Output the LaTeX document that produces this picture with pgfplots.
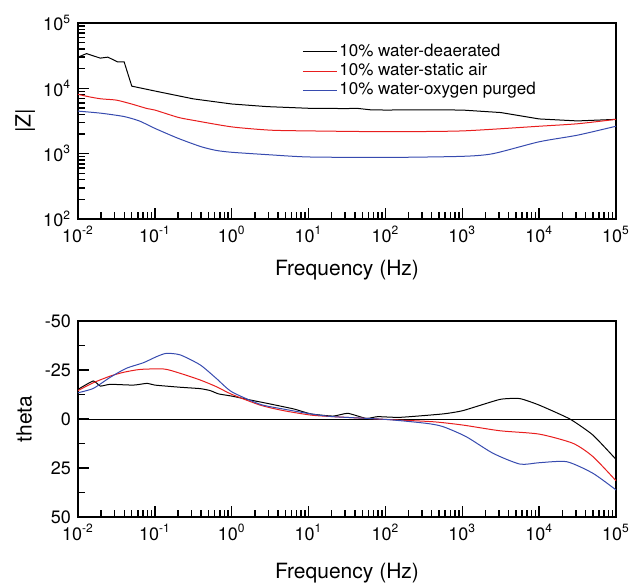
\documentclass[border=0pt]{standalone}
\usepackage{fontspec}
\setmainfont{TeX Gyre Heros}
\usepackage{pgfplots}
\pgfplotsset{compat=1.18}
\definecolor{myred}{RGB}{232,30,30}
\definecolor{myblue}{RGB}{55,75,175}
\begin{document}
\begin{tikzpicture}
\begin{axis}[at={(39pt,182.5pt)}, anchor=south west,
  xmode=log, ymode=log, scale only axis, width=269pt, height=98pt,
  xmin=1e-2, xmax=1e5, ymin=100, ymax=1e5,
  xtick={1e-2,1e-1,1,10,100,1000,1e4,1e5},
  xticklabels={10\textsuperscript{-2},10\textsuperscript{-1},10\textsuperscript{0},10\textsuperscript{1},10\textsuperscript{2},10\textsuperscript{3},10\textsuperscript{4},10\textsuperscript{5}},
  minor xtick={0.02,0.03,0.04,0.05,0.06,0.07,0.08,0.09,0.2,0.3,0.4,0.5,0.6,0.7,0.8,0.9,2,3,4,5,6,7,8,9,20,30,40,50,60,70,80,90,200,300,400,500,600,700,800,900,2000,3000,4000,5000,6000,7000,8000,9000,20000,30000,40000,50000,60000,70000,80000,90000},
  ytick={100,1000,1e4,1e5},
  yticklabels={10\textsuperscript{2},10\textsuperscript{3},10\textsuperscript{4},10\textsuperscript{5}},
  minor ytick={200,300,400,500,600,700,800,900,2000,3000,4000,5000,6000,7000,8000,9000,20000,30000,40000,50000,60000,70000,80000,90000},
  xtick pos=left, ytick pos=left,
  tick align=inside, major tick length=5.5pt, minor tick length=3.5pt,
  tick style={black, line width=0.75pt},
  axis line style={line width=0.6pt},
  ticklabel style={font=\fontsize{9}{10}\selectfont},
  label style={font=\fontsize{10.5}{12}\selectfont},
  xlabel={Frequency (Hz)}, ylabel={|Z|},
  y label style={at={(axis description cs:-0.098,0.5)}, anchor=center},
  x label style={at={(axis description cs:0.5,-0.26)}, anchor=center},
  legend style={at={(0.405,0.925)}, anchor=north west, draw=none, fill=none,
    font=\fontsize{8.5}{9}\selectfont, nodes={inner sep=1pt}},
  legend cell align=left,
]
\addplot[black, line width=0.5pt] coordinates {(0.01,30000) (0.0129,34000) (0.0195,29000) (0.0245,30000) (0.0324,25500) (0.0398,25500) (0.0501,10800) (0.1,9100) (0.316,6900) (1,5760) (2.88,5250) (10,4950) (31.6,4900) (42,4950) (63,4700) (100,4650) (300,4700) (1000,4650) (3162,4260) (10000,3400) (31623,3170) (1e5,3350)};
\addlegendentry{10\% water-deaerated}
\addplot[myred, line width=0.5pt, smooth, tension=0.4] coordinates {(0.01,8100) (0.0141,7400) (0.02,6900) (0.0316,6600) (0.05,5750) (0.0794,4900) (0.1,4650) (0.2,3600) (0.316,3240) (1,2570) (3.16,2290) (10,2230) (100,2170) (1000,2230) (10000,2630) (31623,2870) (1e5,3350)};
\addlegendentry{10\% water-static air}
\addplot[myblue, line width=0.5pt, smooth, tension=0.4] coordinates {(0.01,4480) (0.02,4160) (0.0398,3700) (0.0631,3160) (0.1,2440) (0.2,1720) (0.398,1280) (0.631,1120) (1,1050) (3.16,960) (10,890) (100,875) (1000,910) (2512,1000) (10000,1520) (31623,1920) (1e5,2630)};
\addlegendentry{10\% water-oxygen purged}
\end{axis}
\begin{axis}[at={(39pt,33.5pt)}, anchor=south west,
  xmode=log, scale only axis, width=269pt, height=98pt,
  xmin=1e-2, xmax=1e5, y dir=reverse, ymin=-50, ymax=50,
  xtick={1e-2,1e-1,1,10,100,1000,1e4,1e5},
  xticklabels={10\textsuperscript{-2},10\textsuperscript{-1},10\textsuperscript{0},10\textsuperscript{1},10\textsuperscript{2},10\textsuperscript{3},10\textsuperscript{4},10\textsuperscript{5}},
  minor xtick={0.02,0.03,0.04,0.05,0.06,0.07,0.08,0.09,0.2,0.3,0.4,0.5,0.6,0.7,0.8,0.9,2,3,4,5,6,7,8,9,20,30,40,50,60,70,80,90,200,300,400,500,600,700,800,900,2000,3000,4000,5000,6000,7000,8000,9000,20000,30000,40000,50000,60000,70000,80000,90000},
  ytick={-50,-25,0,25,50},
  yticklabels={-50,-25,0,25,50},
  minor ytick={-37.5,-12.5,12.5,37.5},
  xtick pos=left, ytick pos=left,
  tick align=inside, major tick length=5.5pt, minor tick length=3.5pt,
  tick style={black, line width=0.75pt},
  axis line style={line width=0.6pt},
  ticklabel style={font=\fontsize{9}{10}\selectfont},
  label style={font=\fontsize{10.5}{12}\selectfont},
  xlabel={Frequency (Hz)}, ylabel={theta},
  y label style={at={(axis description cs:-0.10,0.5)}, anchor=center},
  x label style={at={(axis description cs:0.5,-0.286)}, anchor=center},
]
\addplot[black, line width=0.5pt] coordinates {(1e-2,0) (1e5,0)};
\addplot[black, line width=0.5pt, smooth, tension=0.3] coordinates {(0.01,-15.1) (0.0158,-19.4) (0.0195,-16.8) (0.0263,-17.7) (0.0525,-17.3) (0.0794,-18.2) (0.1,-17.3) (0.214,-16.2) (0.389,-15.5) (0.525,-14.5) (0.676,-12.8) (1,-11.7) (1.74,-9.7) (2.88,-8) (6.46,-5.1) (10.7,-2.6) (20.9,-1.5) (32.4,-2.9) (56.2,-0.3) (79.4,-1.2) (155,-0.85) (562,-2.6) (1023,-4.3) (3090,-10) (5623,-10.4) (10000,-7.1) (25119,0) (50119,8.2) (1e5,20.6)};
\addplot[myred, line width=0.5pt, smooth, tension=0.4] coordinates {(0.01,-14.5) (0.0158,-18.5) (0.0263,-21.9) (0.0389,-23.8) (0.0646,-25.3) (0.132,-25.5) (0.214,-23.3) (0.389,-19.9) (0.631,-16.5) (1,-12.6) (2.34,-7.1) (4.68,-4.3) (10.7,-2) (20.9,-1.2) (100,0.2) (417,1.4) (1023,3.1) (3090,6) (10000,7.7) (27542,12.4) (50119,19.2) (1e5,31.5)};
\addplot[myblue, line width=0.5pt, smooth, tension=0.4] coordinates {(0.01,-13.4) (0.0158,-15.6) (0.0263,-21.3) (0.0427,-25.9) (0.0708,-28.7) (0.105,-31.8) (0.141,-33.5) (0.214,-32.7) (0.389,-27.6) (0.631,-20.7) (1,-13.9) (2.34,-7.5) (4.68,-5.1) (10.7,-2.6) (20.9,-1.2) (100,0.2) (339,2.2) (562,3.9) (1122,9) (2512,17.5) (5623,23) (10000,22.3) (22909,21.8) (50119,27.7) (1e5,36.2)};
\end{axis}
\pgfresetboundingbox
\path (0,0) rectangle (315pt,292pt);
\end{tikzpicture}
\end{document}
